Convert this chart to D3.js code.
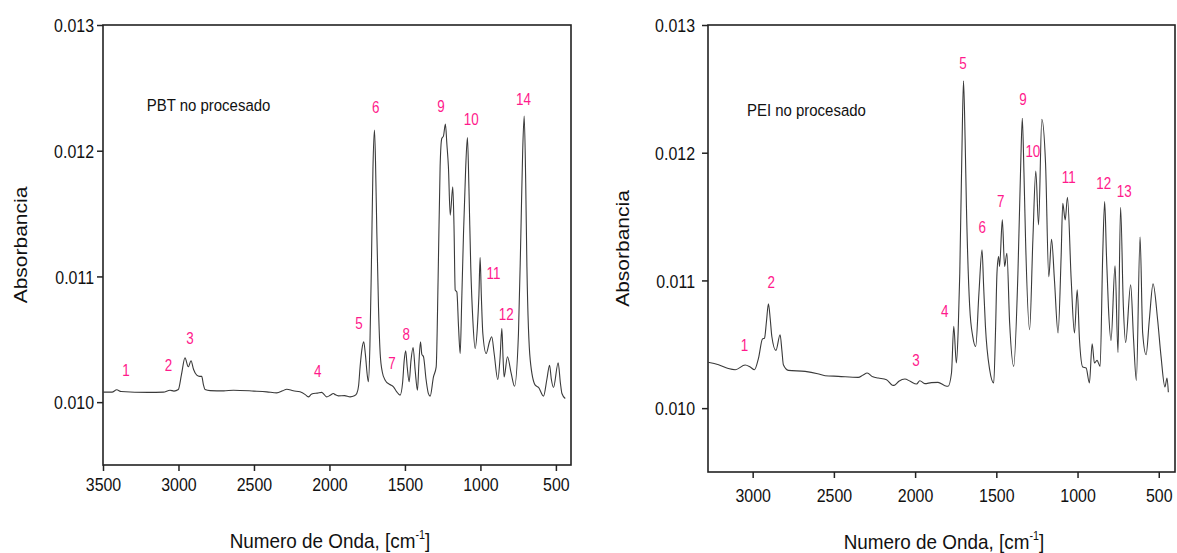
<!DOCTYPE html>
<html>
<head>
<meta charset="utf-8">
<script src="https://cdn.jsdelivr.net/npm/d3@7"></script>
<style>
  body { margin: 0; background: #fff; }
  svg text { font-family: "Liberation Sans", Arial, sans-serif; }
</style>
</head>
<body>
<svg width="1177" height="553"></svg>
<script>
// PBT spectrum, [wavenumber, absorbance]
const pbtSpectrum = [
  [3500, 0.01008], [3440, 0.01008], [3409, 0.010098], [3380, 0.010085], [3200, 0.010078],
  [3100, 0.01008], [3056, 0.010095], [3030, 0.010088], [3001, 0.0101], [2980, 0.01022],
  [2957, 0.010352], [2935, 0.010281], [2917, 0.010329], [2900, 0.01026], [2879, 0.010215],
  [2860, 0.010205], [2846, 0.010205], [2835, 0.01014], [2824, 0.010101], [2790, 0.010092],
  [2700, 0.01009], [2636, 0.010095], [2500, 0.010088], [2415, 0.010082], [2349, 0.010074],
  [2310, 0.01009], [2283, 0.010103], [2240, 0.01009], [2195, 0.010082], [2160, 0.01006],
  [2140, 0.010042], [2120, 0.010062], [2106, 0.010069], [2080, 0.010072], [2051, 0.010078],
  [2035, 0.01006], [2018, 0.010042], [1995, 0.010055], [1974, 0.010069], [1960, 0.010058],
  [1941, 0.01005], [1900, 0.010052], [1863, 0.010042], [1835, 0.01005], [1819, 0.010069],
  [1807, 0.01013], [1797, 0.010281], [1785, 0.01042], [1773, 0.01048], [1762, 0.01038],
  [1750, 0.01022], [1742, 0.010162], [1732, 0.01045], [1722, 0.0111], [1712, 0.01185],
  [1702, 0.012164], [1695, 0.01192], [1686, 0.011342], [1675, 0.01075], [1664, 0.010387],
  [1650, 0.01024], [1631, 0.010175], [1600, 0.01014], [1576, 0.010122], [1554, 0.010082],
  [1532, 0.010056], [1515, 0.01016], [1505, 0.01033], [1495, 0.010408], [1485, 0.01028],
  [1472, 0.010162], [1460, 0.01033], [1446, 0.010435], [1432, 0.01025], [1417, 0.010095],
  [1407, 0.01032], [1397, 0.01048], [1388, 0.01038], [1377, 0.010361], [1360, 0.01018],
  [1345, 0.01007], [1333, 0.010048], [1311, 0.010201], [1293, 0.010281], [1280, 0.011],
  [1267, 0.011872], [1256, 0.012097], [1245, 0.012116], [1232, 0.012212], [1222, 0.01205],
  [1212, 0.011872], [1200, 0.011488], [1183, 0.011712], [1175, 0.0114], [1167, 0.010891],
  [1156, 0.010877], [1145, 0.0106], [1134, 0.010387], [1124, 0.0108], [1112, 0.011342],
  [1098, 0.01185], [1086, 0.012105], [1076, 0.0117], [1064, 0.011076], [1050, 0.01065],
  [1035, 0.010427], [1020, 0.0106], [1010, 0.01085], [1002, 0.011151], [994, 0.01085],
  [984, 0.010546], [962, 0.010387], [940, 0.01048], [925, 0.01052], [909, 0.010387],
  [885, 0.01018], [870, 0.01035], [858, 0.010586], [850, 0.01035], [843, 0.010201],
  [821, 0.010361], [796, 0.010228], [774, 0.010127], [748, 0.010546], [732, 0.011342],
  [720, 0.012], [710, 0.012275], [700, 0.01175], [692, 0.011076], [670, 0.010334],
  [637, 0.010135], [615, 0.010117], [582, 0.010048], [560, 0.01018], [542, 0.010294],
  [530, 0.01018], [516, 0.010117], [485, 0.010313], [470, 0.01015], [460, 0.010069],
  [438, 0.010029]
];

// PEI spectrum, [wavenumber, absorbance]
const peiSpectrum = [
  [3275, 0.01036], [3210, 0.01034], [3150, 0.01031], [3107, 0.010301], [3046, 0.010338],
  [3015, 0.010322], [2989, 0.010301], [2964, 0.010392], [2940, 0.010541], [2927, 0.010549],
  [2915, 0.01068], [2903, 0.010817], [2892, 0.0107], [2882, 0.010561], [2857, 0.010452],
  [2831, 0.010575], [2820, 0.01045], [2811, 0.01034], [2780, 0.010296], [2677, 0.010288],
  [2600, 0.01027], [2554, 0.010254], [2473, 0.010249], [2350, 0.010241], [2320, 0.01026],
  [2295, 0.010275], [2260, 0.010245], [2227, 0.010236], [2176, 0.010223], [2140, 0.01018],
  [2129, 0.010178], [2100, 0.01021], [2063, 0.010228], [2030, 0.01021], [1991, 0.010189],
  [1971, 0.010215], [1940, 0.010192], [1900, 0.0102], [1859, 0.010202], [1817, 0.010176],
  [1797, 0.010171], [1776, 0.010275], [1762, 0.01064], [1746, 0.010353], [1735, 0.0106],
  [1725, 0.011057], [1712, 0.012], [1702, 0.012563], [1692, 0.0121], [1684, 0.011578],
  [1664, 0.010796], [1645, 0.01056], [1627, 0.010483], [1607, 0.010901], [1588, 0.011239],
  [1578, 0.01095], [1567, 0.01064], [1541, 0.010301], [1516, 0.010197], [1505, 0.0106],
  [1496, 0.011057], [1486, 0.011187], [1480, 0.011109], [1463, 0.011474], [1449, 0.011109],
  [1435, 0.011213], [1418, 0.010666], [1393, 0.010327], [1367, 0.011057], [1350, 0.0119],
  [1340, 0.012269], [1330, 0.01185], [1320, 0.011317], [1295, 0.010614], [1275, 0.011317],
  [1257, 0.011857], [1240, 0.011435], [1220, 0.012261], [1197, 0.011917], [1177, 0.01103],
  [1160, 0.011323], [1142, 0.011], [1120, 0.010588], [1101, 0.011187], [1091, 0.011604],
  [1076, 0.011474], [1062, 0.011651], [1039, 0.011005], [1019, 0.010588], [1002, 0.010926],
  [988, 0.010536], [968, 0.010322], [947, 0.010314], [927, 0.010197], [910, 0.010504],
  [896, 0.010353], [880, 0.010374], [861, 0.010327], [845, 0.0112], [833, 0.011617],
  [822, 0.0112], [810, 0.010796], [794, 0.01053], [769, 0.011114], [751, 0.010436],
  [735, 0.011573], [718, 0.010796], [704, 0.010514], [673, 0.010966], [655, 0.010536],
  [638, 0.010217], [615, 0.011339], [599, 0.010588], [578, 0.010418], [558, 0.010692],
  [535, 0.010973], [507, 0.010692], [486, 0.010405], [462, 0.010166], [449, 0.010236],
  [441, 0.010124]
];

// peak numbers, [label, wavenumber, absorbance] (centre of the label)
const pbtPeaks = [
  ["1", 3348, 0.010255], ["2", 3067, 0.010294], ["3", 2923, 0.010507], ["4", 2077, 0.010247],
  ["5", 1805, 0.010626], ["6", 1693, 0.012344], ["7", 1585, 0.010313], ["8", 1492, 0.010539],
  ["9", 1262, 0.012355], ["10", 1061, 0.012249], ["11", 914, 0.011029], ["12", 829, 0.0107],
  ["14", 714, 0.012413]
];
const peiPeaks = [
  ["1", 3050, 0.010489], ["2", 2886, 0.010984], ["3", 1995, 0.010379], ["4", 1817, 0.010757],
  ["5", 1705, 0.012704], ["6", 1586, 0.011414], ["7", 1473, 0.011617], ["9", 1336, 0.01242],
  ["10", 1275, 0.012008], ["11", 1054, 0.011805], ["12", 839, 0.011761], ["13", 712, 0.011701]
];

const yTicks = [0.010, 0.011, 0.012, 0.013];
const yMinor = [0.0095, 0.0105, 0.0115, 0.0125];
const pbtXTicks = [3500, 3000, 2500, 2000, 1500, 1000, 500];
const peiXTicks = [3000, 2500, 2000, 1500, 1000, 500];
const xMinor = [3250, 2750, 2250, 1750, 1250, 750];

const svg = d3.select("svg");
const pink = "#ff1a8c";
const sx = 0.84;

const panel = cfg => {
  const x = d3.scaleLinear().domain(cfg.xDomain).range([cfg.left, cfg.right]);
  const y = d3.scaleLinear().domain([0.0095, 0.013]).range([cfg.bottom, cfg.top]);
  const g = svg.append("g");

  // frame
  g.append("rect")
    .attr("x", cfg.left).attr("y", cfg.top)
    .attr("width", cfg.right - cfg.left).attr("height", cfg.bottom - cfg.top)
    .attr("fill", "none").attr("stroke", "#222").attr("stroke-width", 1.6);

  // x axis
  const xa = g.append("g").attr("transform", `translate(0,${cfg.bottom})`);
  xa.call(d3.axisBottom(x).tickValues(xMinor.filter(v => v < cfg.xDomain[0]))
      .tickSize(4).tickFormat("").tickSizeOuter(0));
  xa.call(d3.axisBottom(x).tickValues(cfg.xTicks).tickSize(6).tickSizeOuter(0)
      .tickFormat(d3.format("d")));
  xa.select(".domain").remove();
  xa.selectAll("line").attr("stroke", "#222").attr("stroke-width", 1.5);
  xa.selectAll("text")
    .attr("y", cfg.xLabelGap).attr("dy", null)
    .attr("font-size", 19).attr("fill", "#111")
    .attr("transform", `scale(${sx},1)`);

  // y axis
  const ya = g.append("g").attr("transform", `translate(${cfg.left},0)`);
  ya.call(d3.axisLeft(y).tickValues(yMinor).tickSize(4).tickFormat("").tickSizeOuter(0));
  ya.call(d3.axisLeft(y).tickValues(yTicks).tickSize(6).tickSizeOuter(0)
      .tickFormat(d3.format(".3f")));
  ya.select(".domain").remove();
  ya.selectAll("line").attr("stroke", "#222").attr("stroke-width", 1.5);
  ya.selectAll("text")
    .attr("x", -cfg.yLabelGap / sx).attr("dy", "0.36em")
    .attr("font-size", 19).attr("fill", "#111")
    .attr("transform", `scale(${sx},1)`);

  // spectrum
  const line = d3.line()
    .x(d => x(d[0]))
    .y(d => y(d[1]))
    .curve(d3.curveMonotoneX);
  g.append("path")
    .datum(cfg.data)
    .attr("fill", "none")
    .attr("stroke", "#3a3a3a")
    .attr("stroke-width", 1.1)
    .attr("d", line);

  // peak numbers
  g.selectAll(".peak")
    .data(cfg.peaks)
    .enter().append("text")
    .attr("class", "peak")
    .attr("transform", d => `translate(${x(d[1])},${y(d[2])}) scale(${sx},1)`)
    .attr("text-anchor", "middle")
    .attr("dy", "0.36em")
    .attr("font-size", 16)
    .attr("fill", pink)
    .text(d => d[0]);

  // sample name
  g.append("text")
    .attr("transform", `translate(${x(cfg.name[1])},${y(cfg.name[2])}) scale(0.88,1)`)
    .attr("dy", "0.36em")
    .attr("font-size", 17)
    .attr("fill", "#111")
    .text(cfg.name[0]);

  // axis titles
  g.append("text")
    .attr("transform", `translate(${cfg.yTitleX},${(cfg.top + cfg.bottom) / 2}) scale(0.86,1) rotate(-90)`)
    .attr("text-anchor", "middle")
    .attr("dy", "0.36em")
    .attr("font-size", 21)
    .attr("fill", "#111")
    .text("Absorbancia");

  const xt = g.append("text")
    .attr("transform", `translate(${cfg.xTitleX},${cfg.xTitleY}) scale(0.9,1)`)
    .attr("text-anchor", "middle")
    .attr("font-size", 21)
    .attr("fill", "#111");
  xt.append("tspan").text("Numero de Onda, [cm");
  xt.append("tspan").attr("font-size", 12).attr("dy", -9).text("-1");
  xt.append("tspan").attr("dy", 9).text("]");
};

panel({
  data: pbtSpectrum, peaks: pbtPeaks, name: ["PBT no procesado", 3210, 0.012368],
  xDomain: [3500, 400], xTicks: pbtXTicks,
  left: 103, right: 571, top: 25, bottom: 465,
  xLabelGap: 26, yLabelGap: 9, yTitleX: 20, xTitleX: 330, xTitleY: 548
});

panel({
  data: peiSpectrum, peaks: peiPeaks, name: ["PEI no procesado", 3035, 0.012334],
  xDomain: [3275, 400], xTicks: peiXTicks,
  left: 708, right: 1175, top: 25, bottom: 472,
  xLabelGap: 30, yLabelGap: 13, yTitleX: 622, xTitleX: 944, xTitleY: 549
});
</script>
</body>
</html>
